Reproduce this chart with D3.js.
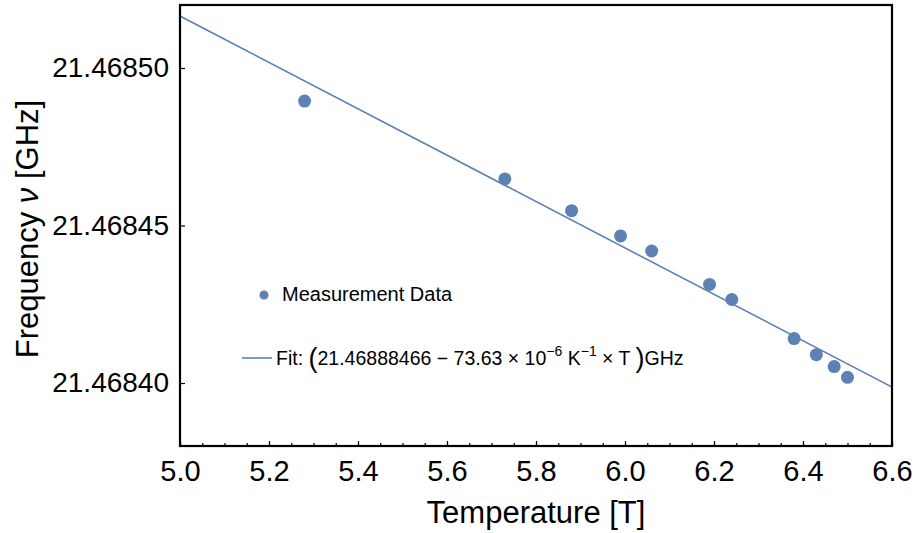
<!DOCTYPE html>
<html>
<head>
<meta charset="utf-8">
<title>Frequency vs Temperature</title>
<script src="https://d3js.org/d3.v7.min.js"></script>
<style>
    body { margin: 0; background: #fff; }
    svg { display: block; font-family: "Liberation Sans", Arial, sans-serif; }
    .axis path { display: none; }
    .axis line { stroke: #000; stroke-width: 1.2; }
    .axis text { font-size: 28px; fill: #000; }
</style>
</head>
<body>
<svg width="917" height="533"></svg>
<script>
// measured points
var temperature = [5.28, 5.73, 5.88, 5.99, 6.06, 6.19, 6.24, 6.38, 6.43, 6.47, 6.50];
var frequency = [21.4684895, 21.4684648, 21.4684547, 21.4684467, 21.4684419, 21.4684313, 21.4684265, 21.4684141, 21.4684090, 21.4684052, 21.4684018];

// fit line end points
var fitT = [5.0, 6.6];
var fitF = [21.46851651, 21.46839870];

var xTicks = [5.0, 5.2, 5.4, 5.6, 5.8, 6.0, 6.2, 6.4, 6.6];
var yTicks = [21.46840, 21.46845, 21.46850];

var svg = d3.select("svg"),
    margin = {top: 5, right: 25, bottom: 87, left: 180},
    width = 917 - margin.left - margin.right,
    height = 533 - margin.top - margin.bottom;

var x = d3.scaleLinear().domain([5.0, 6.6]).range([margin.left, margin.left + width]);
var y = d3.scaleLinear().domain([21.46838, 21.468520]).range([margin.top + height, margin.top]);

var color = "#5e81b5";

svg.append("clipPath").attr("id", "clip")
    .append("rect")
    .attr("x", margin.left).attr("y", margin.top)
    .attr("width", width).attr("height", height);

var plot = svg.append("g").attr("clip-path", "url(#clip)");

// fit line
var fitData = fitT.map(function(t, i) { return {t: t, f: fitF[i]}; });
plot.append("path")
    .datum(fitData)
    .attr("fill", "none")
    .attr("stroke", color)
    .attr("stroke-width", 1.6)
    .attr("d", d3.line().x(function(d) { return x(d.t); }).y(function(d) { return y(d.f); }));

// points
plot.selectAll(".dot")
    .data(temperature)
    .enter().append("circle")
    .attr("class", "dot")
    .attr("cx", function(d) { return x(d); })
    .attr("cy", function(d, i) { return y(frequency[i]); })
    .attr("r", 6.5)
    .attr("fill", color);

// minor x ticks
var minor = d3.range(0, 33).map(function(i) { return 5.0 + i * 0.05; });
svg.append("g")
    .attr("class", "axis")
    .attr("transform", "translate(0," + (margin.top + height) + ")")
    .call(d3.axisBottom(x).tickValues(minor).tickSize(-3).tickFormat(""));

// x axis
svg.append("g")
    .attr("class", "axis")
    .attr("transform", "translate(0," + (margin.top + height) + ")")
    .call(d3.axisBottom(x).tickValues(xTicks).tickSizeInner(-5).tickSizeOuter(0).tickPadding(14).tickFormat(d3.format(".1f")))
    .selectAll("text").style("font-size", "29px");

// y axis
svg.append("g")
    .attr("class", "axis")
    .attr("transform", "translate(" + margin.left + ",0)")
    .call(d3.axisLeft(y).tickValues(yTicks).tickSizeInner(-5).tickSizeOuter(0).tickPadding(11).tickFormat(d3.format(".5f")));

// frame
svg.append("rect")
    .attr("x", margin.left).attr("y", margin.top)
    .attr("width", width).attr("height", height)
    .attr("fill", "none")
    .attr("stroke", "#000")
    .attr("stroke-width", 2.2);

// axis titles
svg.append("text")
    .attr("x", margin.left + width / 2)
    .attr("y", 523)
    .attr("text-anchor", "middle")
    .style("font-size", "31px")
    .text("Temperature [T]");

var yl = svg.append("text")
    .attr("transform", "translate(38," + (margin.top + 224) + ") rotate(-90)")
    .attr("text-anchor", "middle")
    .style("font-size", "31px");
yl.append("tspan").text("Frequency ");
yl.append("tspan").style("font-style", "italic").text("ν");
yl.append("tspan").text(" [GHz]");

// legend
var lg = svg.append("g");
lg.append("circle").attr("cx", 264).attr("cy", 295).attr("r", 4.5).attr("fill", color);
lg.append("text").attr("x", 282).attr("y", 301).style("font-size", "20px").text("Measurement Data");

lg.append("line")
    .attr("x1", 242).attr("x2", 272).attr("y1", 358).attr("y2", 358)
    .attr("stroke", color).attr("stroke-width", 1.6);

var ft = lg.append("text").attr("x", 276).attr("y", 365).style("font-size", "19.5px");
ft.append("tspan").text("Fit: ");
ft.append("tspan").style("font-size", "27px").attr("dy", 2).text("(");
ft.append("tspan").attr("dy", -2).text("21.46888466 \u2212 73.63 \u00d7 10");
ft.append("tspan").style("font-size", "14px").attr("dy", -9).text("\u22126");
ft.append("tspan").attr("dy", 9).text(" K");
ft.append("tspan").style("font-size", "14px").attr("dy", -9).text("\u22121");
ft.append("tspan").attr("dy", 9).text(" \u00d7 T ");
ft.append("tspan").style("font-size", "27px").attr("dy", 2).text(")");
ft.append("tspan").attr("dy", -2).text("GHz");
</script>
</body>
</html>
